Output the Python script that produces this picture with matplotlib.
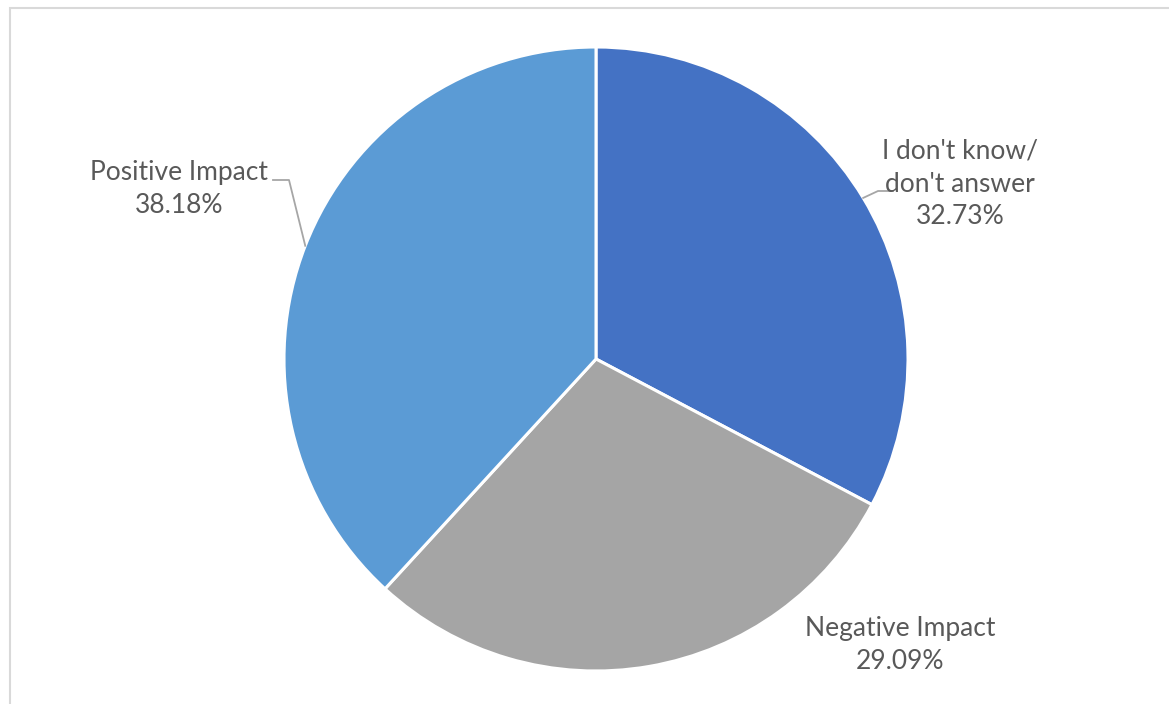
import numpy as np
import matplotlib.pyplot as plt
from matplotlib.patches import Rectangle

labels = ["I don't know/\ndon't answer", "Negative Impact", "Positive Impact"]
values = [32.73, 29.09, 38.18]
colors = ["#4472C4", "#A5A5A5", "#5B9BD5"]

W, H = 1169, 704
fig = plt.figure(figsize=(W / 100, H / 100), dpi=100)

# chart area border (runs off the right and bottom of the picture)
fig.patches.append(Rectangle((10 / W, -0.1), 1.2, 1 - 8 / H + 0.1,
                             transform=fig.transFigure, fill=False,
                             edgecolor="#D9D9D9", linewidth=1.5))

# pie centre at (596, 359) px, radius 312 px
r = 312
ax = fig.add_axes([(596 - r) / W, (H - 359 - r) / H, 2 * r / W, 2 * r / H])
wedges, _ = ax.pie(values, colors=colors, startangle=90, counterclock=False,
                   radius=1, wedgeprops=dict(edgecolor="white", linewidth=2.2))
ax.set_xlim(-1, 1)
ax.set_ylim(-1, 1)
ax.set_aspect("equal")
ax.axis("off")


def px(x, y):
    return (x - 596) / r, (359 - y) / r


txt = dict(color="#595959", fontsize=19, family="Lato", ha="center",
           va="center", linespacing=1.38)

texts = [f"{l}\n{v:.2f}%" for l, v in zip(labels, values)]
pos = [px(960, 184), px(900, 645), px(179, 189)]
for t, p in zip(texts, pos):
    ax.text(*p, t, clip_on=False, **txt)

# leader lines from wedge mid-angle on the rim
mids = [np.deg2rad((w.theta1 + w.theta2) / 2) for w in wedges]
legs = {0: [px(878, 191), px(893, 191)], 2: [px(289, 180), px(273, 180)]}
for i, pts in legs.items():
    x0, y0 = np.cos(mids[i]), np.sin(mids[i])
    xs = [x0] + [p[0] for p in pts]
    ys = [y0] + [p[1] for p in pts]
    ax.plot(xs, ys, color="#A6A6A6", linewidth=1.3, clip_on=False)

fig.savefig("out.png", dpi=100)
